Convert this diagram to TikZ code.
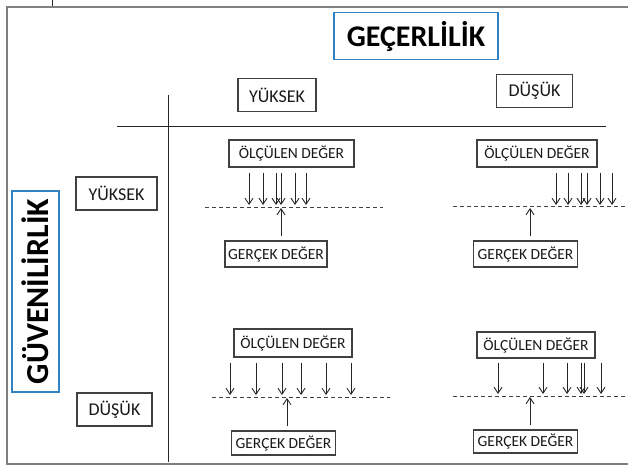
\documentclass[tikz,border=0pt]{standalone}
\usepackage{fontspec}
\setmainfont{Carlito}
\usetikzlibrary{arrows.meta}

\tikzset{
  box/.style={draw=black!75, line width=1.3pt, inner sep=0pt, text=black!90},
  headbox/.style={box, minimum width=78pt, minimum height=33pt, font=\fontsize{18}{21}\selectfont},
  olcum/.style={box, minimum width=120pt, minimum height=27pt, font=\fontsize{15.5}{18}\selectfont},
  gercek/.style={box, minimum width=104pt, minimum height=26pt, font=\fontsize{15.5}{18}\selectfont},
  titlebox/.style={draw=blue!45!cyan!70!black!80, line width=1.4pt, inner sep=0pt, minimum width=164pt, minimum height=47pt, font=\fontsize{30}{34}\selectfont\bfseries},
  downar/.style={-{Straight Barb[length=6pt,width=8pt]}, line width=0.9pt, black!85},
  upar/.style={-{Straight Barb[length=6pt,width=8pt]}, line width=0.9pt, black!85},
  hat/.style={dashed, dash pattern=on 4pt off 3pt, line width=1pt, black!75}
}

\begin{document}
\begin{tikzpicture}[x=1pt, y=-1pt]
		%%%%% FRAME %%%%%
		\useasboundingbox (0,0) rectangle (628,466);
		\draw[black!50, line width=2pt] (628,6.5) -- (7,6.5) -- (7,464) -- (628,464);
		\draw[black!85, line width=1pt] (52,0) -- (52,6);
		
		%%%%% TITLES %%%%%
		\node[titlebox] (gec) at (416,36) {GEÇERLİLİK};
		\node[titlebox, minimum width=201pt, font=\fontsize{32}{36}\selectfont\bfseries, rotate=90] (guv) at (35.5,291.5) {GÜVENİLİRLİK};
		
		\node[headbox] (gyuk) at (277,95) {YÜKSEK};
		\node[headbox, minimum width=76pt] (gdus) at (534.5,91) {DÜŞÜK};
		\node[headbox, minimum width=81pt] (vyuk) at (116.5,193.5) {YÜKSEK};
		\node[headbox, minimum width=75pt] (vdus) at (114.5,409.5) {DÜŞÜK};
		
		\draw[line width=1pt, black!85] (168,95) -- (168,462);
		\draw[line width=1pt, black!85] (117,126) -- (606,126);
		
		%%%%% YUKSEK - YUKSEK %%%%%
		\node[olcum, minimum width=125pt] (oTL) at (291.5,153.5) {ÖLÇÜLEN DEĞER};
		\node[gercek, minimum width=102pt] (gTL) at (276,254) {GERÇEK DEĞER};
		\coordinate (tTL) at (281,208);
		\draw[hat] (205,207) -- (383,207);
		\foreach \x in {249,263,276,281,295,306}
			\draw[downar] ([yshift=-5pt]oTL.south -| \x,0) -- (\x,205);
		\draw[upar] ([yshift=4pt]gTL.north -| tTL) -- (tTL);
		
		%%%%% YUKSEK - DUSUK %%%%%
		\node[olcum] (oTR) at (537,153.5) {ÖLÇÜLEN DEĞER};
		\node[gercek] (gTR) at (525.5,254) {GERÇEK DEĞER};
		\coordinate (tTR) at (530,208);
		\draw[hat] (453,206) -- (628,206);
		\foreach \x in {556,568,581,587,600,612}
			\draw[downar] ([yshift=-5pt]oTR.south -| \x,0) -- (\x,205);
		\draw[upar] ([yshift=4pt]gTR.north -| tTR) -- (tTR);
		
		%%%%% DUSUK - YUKSEK %%%%%
		\node[olcum, minimum width=118pt, minimum height=28pt] (oBL) at (293,343) {ÖLÇÜLEN DEĞER};
		\node[gercek, minimum height=24pt] (gBL) at (283.5,443) {GERÇEK DEĞER};
		\coordinate (tBL) at (287,398);
		\draw[hat] (212,397) -- (390,397);
		\foreach \x in {230,256,282,301,326,351}
			\draw[downar] ([yshift=-5pt]oBL.south -| \x,0) -- (\x,395);
		\draw[upar] ([yshift=4pt]gBL.north -| tBL) -- (tBL);
		
		%%%%% DUSUK - DUSUK %%%%%
		\node[olcum, minimum width=118pt, minimum height=26pt] (oBR) at (536,345) {ÖLÇÜLEN DEĞER};
		\node[gercek, minimum height=23pt] (gBR) at (525.5,441.5) {GERÇEK DEĞER};
		\coordinate (tBR) at (530,397);
		\draw[hat] (453,396) -- (628,396);
		\foreach \x in {498,543,567,581,584,601}
			\draw[downar] ([yshift=-4pt]oBR.south -| \x,0) -- (\x,394);
		\draw[upar] ([yshift=4pt]gBR.north -| tBR) -- (tBR);
		
		%%%%% END %%%%%
\end{tikzpicture}
\end{document}
